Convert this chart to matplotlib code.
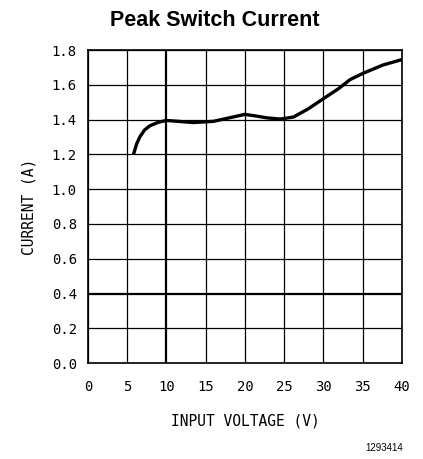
import matplotlib.pyplot as plt

# данные кривой
voltage = [5.8, 6.2, 6.6, 7.2, 7.9, 9.0, 10.0, 11.5, 13.4, 16.0, 18.0, 20.0, 21.5,
           22.8, 24.5, 26.2, 28.0, 30.0, 32.0, 33.4, 35.0, 37.6, 40.0]
current = [1.20, 1.26, 1.30, 1.34, 1.365, 1.385, 1.395, 1.39, 1.383, 1.39, 1.41,
           1.43, 1.42, 1.41, 1.403, 1.415, 1.46, 1.52, 1.58, 1.63, 1.665, 1.714, 1.745]

x_ticks = [0, 5, 10, 15, 20, 25, 30, 35, 40]
y_ticks = [0.0, 0.2, 0.4, 0.6, 0.8, 1.0, 1.2, 1.4, 1.6, 1.8]

tick_font = dict(family='DejaVu Sans Mono', size=10)
label_font = dict(family='DejaVu Sans Mono', size=10.5)

fig = plt.figure(figsize=(4.23, 4.59), dpi=100)
ax = fig.add_axes([0.208, 0.209, 0.742, 0.682])

# сетка: линии на 10 В и 0.4 А толще остальных
for xv in x_ticks:
    ax.axvline(xv, color='black', lw=1.6 if xv == 10 else 0.9, zorder=1)
for yv in y_ticks:
    ax.axhline(yv, color='black', lw=1.6 if yv == 0.4 else 0.9, zorder=1)

ax.plot(voltage, current, color='black', lw=2.4, solid_capstyle='butt',
        solid_joinstyle='round', zorder=3)

ax.set_xlim(0, 40)
ax.set_ylim(0, 1.8)
ax.set_xticks(x_ticks)
ax.set_yticks(y_ticks)
ax.set_xticklabels([str(v) for v in x_ticks], fontdict=tick_font)
ax.set_yticklabels([f"{v:.1f}" for v in y_ticks], fontdict=tick_font)
ax.tick_params(axis='x', length=0, pad=12)
ax.tick_params(axis='y', length=0, pad=8)
for s in ax.spines.values():
    s.set_linewidth(1.2)

ax.set_xlabel("INPUT VOLTAGE (V)", fontdict=label_font, labelpad=14)
ax.set_ylabel("CURRENT (A)", fontdict=label_font, labelpad=11)

fig.text(0.508, 0.955, "Peak Switch Current", ha='center', va='center',
         family='Liberation Sans', weight='bold', size=15.5)
fig.text(0.953, 0.025, "1293414", ha='right', va='center',
         family='Liberation Sans', size=7)

fig.savefig('out.png', dpi=100)
